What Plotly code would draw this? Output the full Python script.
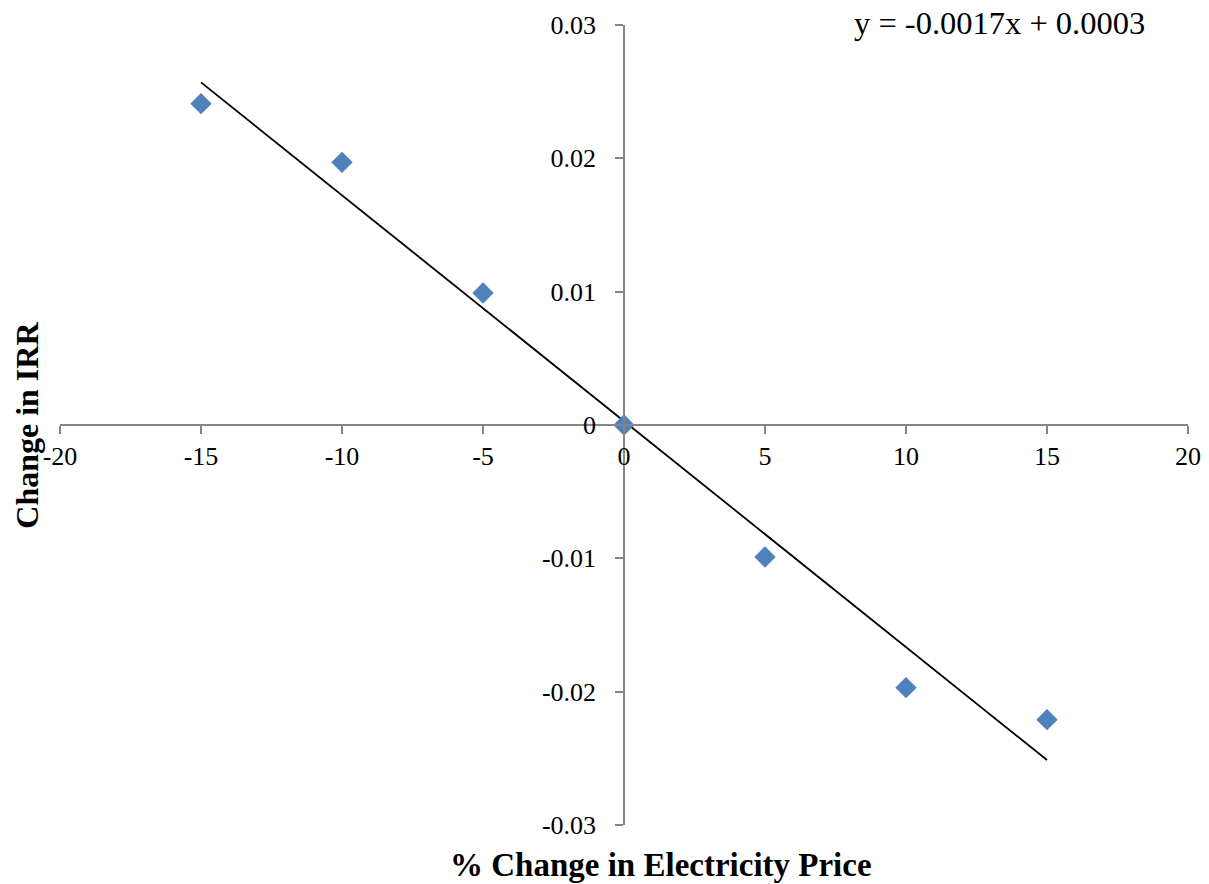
import numpy as np
import plotly.graph_objects as go

# Data
price_change = [-15, -10, -5, 0, 5, 10, 15]
irr_change = [0.0241, 0.0197, 0.0099, 0.0, -0.0099, -0.0197, -0.0221]
x_ticks = [-20, -15, -10, -5, 0, 5, 10, 15, 20]
y_ticks = [-0.03, -0.02, -0.01, 0, 0.01, 0.02, 0.03]
y_tick_labels = ["-0.03", "-0.02", "-0.01", "0", "0.01", "0.02", "0.03"]

slope, intercept = np.polyfit(price_change, irr_change, 1)
trend_x = [min(price_change), max(price_change)]
trend_y = [slope * v + intercept for v in trend_x]

FONT = "Liberation Serif"
AXIS_COLOR = "#868686"

fig = go.Figure()
fig.add_trace(go.Scatter(
    x=trend_x, y=trend_y, mode="lines",
    line=dict(color="black", width=1.8), showlegend=False, hoverinfo="skip"))
fig.add_trace(go.Scatter(
    x=price_change, y=irr_change, mode="markers",
    marker=dict(symbol="diamond", size=16, color="#4F81BD",
                line=dict(color="#4A7EBB", width=0.5)),
    showlegend=False))

fig.update_layout(
    width=1201, height=876,
    margin=dict(l=52, r=21, t=17, b=59, autoexpand=False),
    paper_bgcolor="white", plot_bgcolor="white",
    font=dict(family=FONT, size=26, color="black"),
    xaxis=dict(range=[-20, 20], tickvals=x_ticks, ticktext=[str(v) for v in x_ticks],
               showgrid=False, zeroline=False, showline=True, linecolor=AXIS_COLOR,
               linewidth=1.5, ticks="outside", ticklen=8, tickcolor=AXIS_COLOR,
               tickwidth=1.5, anchor="free", position=0.5, ticklabelstandoff=0,
               automargin=False,
               tickfont=dict(family=FONT, size=26, color="black")),
    yaxis=dict(range=[-0.03, 0.03], tickvals=y_ticks, ticktext=y_tick_labels,
               showgrid=False, zeroline=False, showline=True, linecolor=AXIS_COLOR,
               linewidth=1.5, ticks="outside", ticklen=8, tickcolor=AXIS_COLOR,
               tickwidth=1.5, anchor="free", position=0.5, ticklabelstandoff=14,
               automargin=False,
               tickfont=dict(family=FONT, size=26, color="black")),
    annotations=[
        dict(text="<b>% Change in Electricity Price</b>", xref="paper", yref="paper",
             x=0.533, y=-0.05, xanchor="center", yanchor="middle", showarrow=False,
             font=dict(family=FONT, size=33, color="black")),
        dict(text="<b>Change in IRR</b>", xref="paper", yref="paper",
             x=-0.0295, y=0.5, xanchor="center", yanchor="middle", textangle=-90,
             showarrow=False, font=dict(family=FONT, size=32, color="black")),
        dict(text="y = -0.0017x + 0.0003", xref="paper", yref="paper",
             x=0.702, y=1.002, xanchor="left", yanchor="middle", showarrow=False,
             font=dict(family=FONT, size=32.5, color="black")),
    ],
)

fig.write_html("out.html")
